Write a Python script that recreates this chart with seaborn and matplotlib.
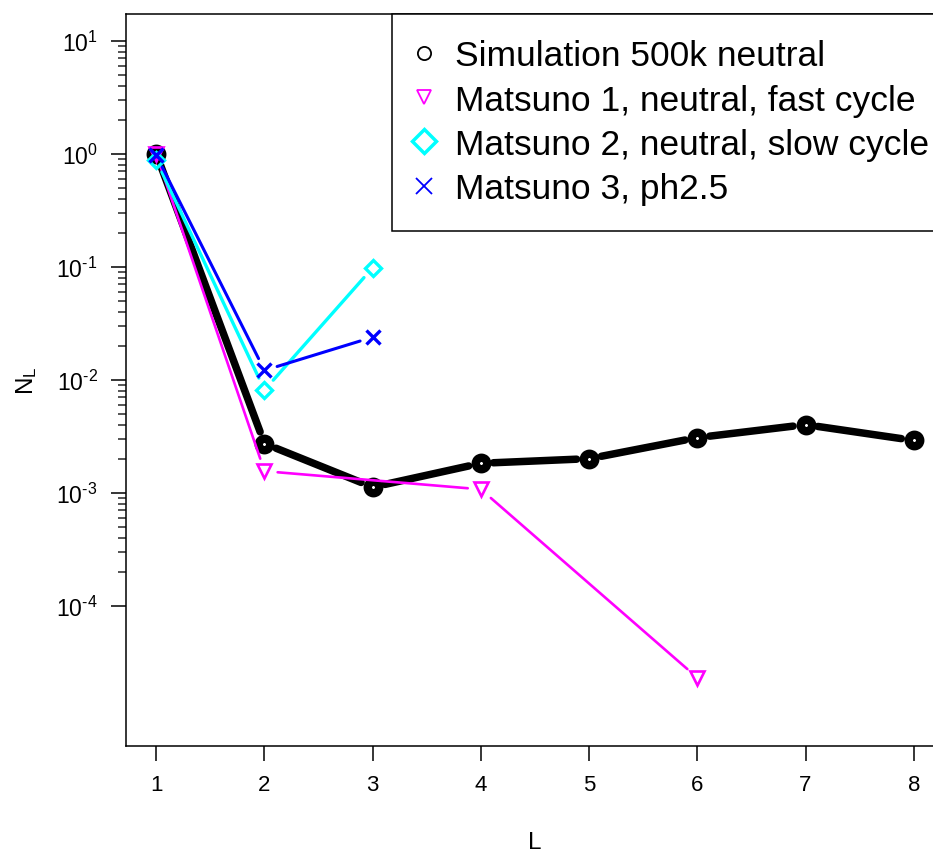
#!/usr/bin/env python3
"""
N_L vs L: simulation vs Matsuno data (R-style type="b" plot)
"""

import numpy as np
import matplotlib
matplotlib.use('Agg')
import matplotlib.pyplot as plt
from matplotlib.lines import Line2D
from matplotlib.ticker import FixedLocator, NullFormatter
import seaborn as sns

sns.set_style('ticks')
plt.rcParams['font.family'] = ['Liberation Sans', 'DejaVu Sans']
plt.rcParams['mathtext.fontset'] = 'custom'
plt.rcParams['mathtext.rm'] = 'Liberation Sans'
plt.rcParams['mathtext.default'] = 'regular'
plt.rcParams['text.color'] = 'black'
plt.rcParams['axes.labelcolor'] = 'black'

# data
L_sim = [1, 2, 3, 4, 5, 6, 7, 8]
N_sim = [1.0, 2.72e-3, 1.12e-3, 1.82e-3, 2.0e-3, 3.07e-3, 4.0e-3, 2.9e-3]

L_m1 = [1, 2, 4, 6]
N_m1 = [0.99, 1.55e-3, 1.07e-3, 2.3e-5]

L_m2 = [1, 2, 3]
N_m2 = [0.88, 8.1e-3, 0.098]

L_m3 = [1, 2, 3]
N_m3 = [0.97, 0.0121, 0.0238]

labels = ['Simulation 500k neutral',
          'Matsuno 1, neutral, fast cycle',
          'Matsuno 2, neutral, slow cycle',
          'Matsuno 3, ph2.5']

y_major = [1e-4, 1e-3, 1e-2, 1e-1, 1e0, 1e1]
y_exp = ['\\text{-}4', '\\text{-}3', '\\text{-}2', '\\text{-}1', '0', '1']
x_ticks = [1, 2, 3, 4, 5, 6, 7, 8]


def draw_b(ax, xs, ys, color, lw, gap, z):
    """lines with gaps around the points, like R type='b'"""
    for i in range(len(xs) - 1):
        ax.annotate('', xy=(xs[i + 1], ys[i + 1]), xytext=(xs[i], ys[i]),
                    arrowprops=dict(arrowstyle='-', color=color, lw=lw,
                                    shrinkA=gap, shrinkB=gap, capstyle='round'),
                    zorder=z)


fig = plt.figure(figsize=(9.33, 8.54), dpi=100)
ax = fig.add_axes([126 / 933, 107.3 / 854, 818 / 933, 732 / 854])
ax.set_yscale('log')
ax.set_xlim(0.72, 8.28)
ax.set_ylim(10 ** -5.24, 10 ** 1.24)

# simulation
draw_b(ax, L_sim, N_sim, 'black', 5.4, 9, 2)
sns.lineplot(x=L_sim, y=N_sim, ax=ax, linestyle='none', marker='o', ms=8.3,
             mfc='white', mec='black', mew=6, color='black', zorder=3)

# Matsuno 1
draw_b(ax, L_m1, N_m1, '#FF00FF', 1.9, 9.5, 4)
sns.lineplot(x=L_m1, y=N_m1, ax=ax, linestyle='none', marker='v', ms=10,
             mfc='none', mec='#FF00FF', mew=1.9, color='#FF00FF', zorder=5)

# Matsuno 2
draw_b(ax, L_m2, N_m2, '#00FFFF', 2.4, 9.5, 6)
sns.lineplot(x=L_m2, y=N_m2, ax=ax, linestyle='none', marker='D', ms=8,
             mfc='none', mec='#00FFFF', mew=2.4, color='#00FFFF', zorder=7)

# Matsuno 3
draw_b(ax, L_m3, N_m3, '#0000FF', 2.2, 9.5, 8)
sns.lineplot(x=L_m3, y=N_m3, ax=ax, linestyle='none', marker='x', ms=9.5,
             mec='#0000FF', mew=2.4, color='#0000FF', zorder=9)

# axes / ticks
ax.xaxis.set_major_locator(FixedLocator(x_ticks))
ax.set_xticklabels([str(v) for v in x_ticks])
ax.yaxis.set_major_locator(FixedLocator(y_major))
ax.set_yticklabels([f'$10^{{{e}}}$' for e in y_exp])
minors = [m * 10.0 ** k for k in range(-4, 1) for m in range(2, 10)]
ax.yaxis.set_minor_locator(FixedLocator(minors))
ax.yaxis.set_minor_formatter(NullFormatter())
ax.xaxis.set_minor_locator(FixedLocator([]))

ax.tick_params(axis='both', which='major', direction='out', length=10.5, width=1.1,
               color='black', labelcolor='black')
ax.tick_params(axis='x', pad=10, labelsize=16)
ax.tick_params(axis='y', pad=10, labelsize=16.5)
ax.tick_params(axis='y', which='minor', direction='out', length=5.5, width=1.1)
for s in ax.spines.values():
    s.set_linewidth(1.1)
    s.set_color('black')
    s.set_visible(True)

ax.set_xlabel('L', fontsize=17.5)
ax.set_ylabel('$N_L$', fontsize=17.5)
ax.xaxis.label.set_va('baseline')
ax.xaxis.set_label_coords(0.5, -0.1398)
ax.yaxis.set_label_coords(-0.106, 0.5)

# legend
handles = [
    Line2D([], [], linestyle='none', marker='o', ms=9.5, mfc='none', mec='black', mew=1.3),
    Line2D([], [], linestyle='none', marker='v', ms=10, mfc='none', mec='#FF00FF', mew=1.3),
    Line2D([], [], linestyle='none', marker='D', ms=12.5, mfc='none', mec='#00FFFF', mew=2.5),
    Line2D([], [], linestyle='none', marker='x', ms=11, mec='#0000FF', mew=1.3),
]
leg = ax.legend(handles, labels, loc='upper right', bbox_to_anchor=(1.0134, 1),
                borderaxespad=0, fancybox=False, framealpha=1, edgecolor='black',
                fontsize=25.5, handlelength=0.4, handletextpad=0.68,
                borderpad=0.72, labelspacing=0.32)
leg.get_frame().set_linewidth(1.1)
leg.set_zorder(20)
for t in leg.get_texts():
    t.set_color('black')

plt.savefig('out.png', dpi=100)
plt.close()
